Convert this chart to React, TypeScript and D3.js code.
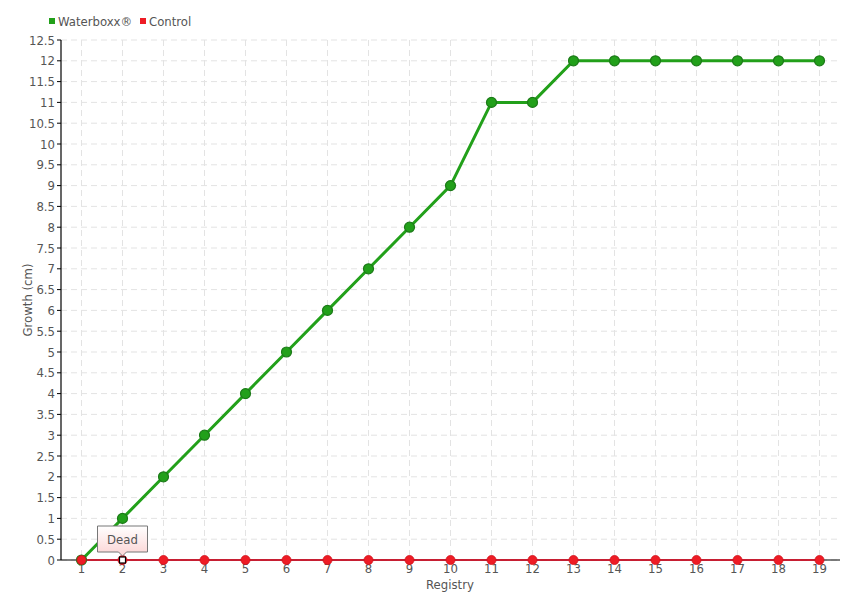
import React from "react";
import * as d3 from "d3";

const registries = ["1","2","3","4","5","6","7","8","9","10","11","12","13","14","15","16","17","18","19"];
const waterboxx = [0,1,2,3,4,5,6,7,8,9,11,11,12,12,12,12,12,12,12];
const control = [0,0,0,0,0,0,0,0,0,0,0,0,0,0,0,0,0,0,0];
const yTicks = d3.range(0, 12.51, 0.5);
const deadIndex = 1;
const deadLabel = "Dead";

const W = 860, H = 600;
const left = 61, right = 840, top = 40, bottom = 560;
const FONT = "'DejaVu Sans Condensed', 'Liberation Sans Narrow', sans-serif";

export default function App() {
  const x = d3.scalePoint<string>().domain(registries).range([left, right]).padding(0.5);
  const y = d3.scaleLinear().domain([0, 12.5]).range([bottom, top]);
  const line = d3.line<number>().x((_, i) => x(registries[i])!).y((d) => y(d));
  const dx = x(registries[deadIndex])!;
  const dy = y(control[deadIndex]);
  return (
    <svg width={W} height={H} style={{ position: "absolute", left: 0, top: 0, fontFamily: FONT, fontStretch: "condensed" }}>
      <rect width={W} height={H} fill="#fff" />
      {yTicks.map((t) => (
        <line key={"gy" + t} x1={left} x2={right} y1={y(t)} y2={y(t)} stroke="#e3e3e3" strokeDasharray="6,4" />
      ))}
      {registries.map((r) => (
        <line key={"gx" + r} x1={x(r)} x2={x(r)} y1={top} y2={bottom} stroke="#e3e3e3" strokeDasharray="6,4" />
      ))}
      <line x1={left} x2={left} y1={top} y2={bottom} stroke="#000" strokeWidth={1.2} />
      <line x1={left} x2={right} y1={bottom} y2={bottom} stroke="#000" strokeWidth={1.2} />
      {yTicks.map((t) => (
        <g key={"yt" + t}>
          <line x1={left - 4} x2={left} y1={y(t)} y2={y(t)} stroke="#000" />
          <text x={left - 6} y={y(t)} dy="0.35em" textAnchor="end" fontSize={13} fill="#555">{String(t)}</text>
        </g>
      ))}
      {registries.map((r) => (
        <text key={"xt" + r} x={x(r)} y={bottom + 13} textAnchor="middle" fontSize={13} fill="#555">{r}</text>
      ))}
      <text x={450} y={589} textAnchor="middle" fontSize={13} fill="#555">Registry</text>
      <text transform={`translate(32,300) rotate(-90)`} textAnchor="middle" fontSize={13} fill="#555">Growth (cm)</text>
      <path d={line(waterboxx)!} fill="none" stroke="#22a01a" strokeWidth={3} />
      <path d={line(control)!} fill="none" stroke="#e0001b" strokeWidth={1.5} />
      {waterboxx.map((v, i) => (
        <circle key={"wb" + i} cx={x(registries[i])} cy={y(v)} r={5} fill="#22a01a" stroke="#1c7a18" strokeWidth={1.2} />
      ))}
      {control.map((v, i) => (
        <circle key={"c" + i} cx={x(registries[i])} cy={y(v)} r={4.5} fill="#ee1c25" stroke="#d0101a" strokeWidth={0.8} />
      ))}
      <rect x={dx - 3} y={dy - 3} width={6} height={6} fill="#fff" stroke="#000" strokeWidth={1.2} />
      <defs>
        <linearGradient id="tipg" x1="0" x2="0" y1="0" y2="1">
          <stop offset="0" stopColor="#ffffff" />
          <stop offset="1" stopColor="#fbd4d4" />
        </linearGradient>
      </defs>
      <path
        d={`M${dx - 25},${dy - 34} H${dx + 25} V${dy - 8} H${dx + 4} L${dx},${dy - 4} L${dx - 4},${dy - 8} H${dx - 25} Z`}
        fill="url(#tipg)" stroke="#777" strokeWidth={1}
      />
      <text x={dx} y={dy - 21} dy="0.35em" textAnchor="middle" fontSize={13} fill="#555">{deadLabel}</text>
      <rect x={49} y={18} width={6} height={6} fill="#22a01a" />
      <text x={58} y={21} dy="0.35em" fontSize={13} fill="#555">Waterboxx®</text>
      <rect x={140} y={18} width={6} height={6} fill="#ee1c25" />
      <text x={149} y={21} dy="0.35em" fontSize={13} fill="#555">Control</text>
    </svg>
  );
}
